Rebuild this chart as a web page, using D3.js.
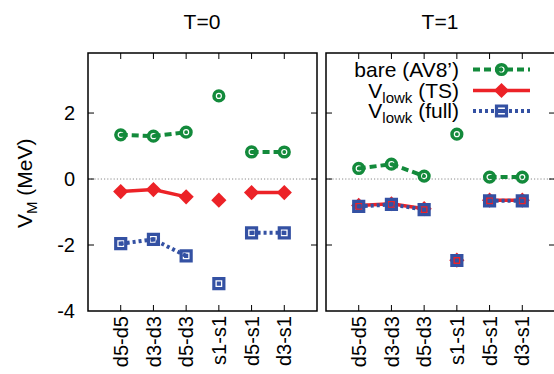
<!DOCTYPE html>
<html>
<head>
<meta charset="utf-8">
<script src="https://cdn.jsdelivr.net/npm/d3@7/dist/d3.min.js"></script>
<style>
  html, body { margin: 0; padding: 0; background: #fff; }
  svg { display: block; font-family: "Liberation Sans", Arial, Helvetica, sans-serif; }
</style>
</head>
<body>
<svg id="chart" width="554" height="374"></svg>
<script>
// Matrix elements V_M (MeV) per orbital pair, for the two isospin channels
const categories = ["d5-d5", "d3-d3", "d5-d3", "s1-s1", "d5-s1", "d3-s1"];
// points sharing a group id are joined by a line
const lineGroups = [0, 0, 0, 1, 2, 2];
const yTicks = [-4, -2, 0, 2];
const panelTitles = ["T=0", "T=1"];

const bareT0 = [1.34, 1.30, 1.42, 2.52, 0.82, 0.82];
const tsT0   = [-0.38, -0.32, -0.54, -0.64, -0.41, -0.41];
const fullT0 = [-1.96, -1.83, -2.33, -3.17, -1.63, -1.63];

const bareT1 = [0.32, 0.45, 0.09, 1.36, 0.06, 0.06];
const tsT1   = [-0.80, -0.75, -0.90, -2.46, -0.64, -0.64];
const fullT1 = [-0.83, -0.77, -0.93, -2.47, -0.66, -0.66];

const legendLabels = [
  { main: "bare (AV8\u2019)", sub: null, rest: null },
  { main: "V", sub: "lowk", rest: " (TS)" },
  { main: "V", sub: "lowk", rest: " (full)" }
];

const colors = { bare: "#138a3b", ts: "#ec2227", full: "#3451a3" };

const svg = d3.select("#chart");

const y = d3.scaleLinear().domain([-4, 3.82]).range([311, 53]);

const panels = [
  { x0: 88, x1: 317, title: panelTitles[0], data: [bareT0, tsT0, fullT0] },
  { x0: 326, x1: 555, title: panelTitles[1], data: [bareT1, tsT1, fullT1] }
];

// Marker shapes: filled outline with a small open ring punched through (evenodd)
function circlePath(cx, cy) {
  const p = d3.path();
  const r = 6.6, a = 3.1, b = 1.9;
  p.moveTo(cx + r, cy); p.arc(cx, cy, r, 0, 2 * Math.PI);
  p.moveTo(cx + a, cy); p.arc(cx, cy, a, 0, 2 * Math.PI);
  p.moveTo(cx + b, cy); p.arc(cx, cy, b, 0, 2 * Math.PI);
  return p.toString();
}
function squarePath(cx, cy) {
  const h = 6.6, a = 3.4, b = 2.1;
  const sq = s => `M${cx - s},${cy - s}H${cx + s}V${cy + s}H${cx - s}Z`;
  return sq(h) + sq(a) + sq(b);
}
function diamondPath(cx, cy) {
  const h = 7.6;
  return `M${cx},${cy - h}L${cx + h},${cy}L${cx},${cy + h}L${cx - h},${cy}Z`;
}

const seriesStyle = [
  { color: colors.bare, width: 4, dash: "7,4", marker: circlePath },
  { color: colors.ts, width: 3.5, dash: null, marker: diamondPath },
  { color: colors.full, width: 4, dash: "3,3", marker: squarePath }
];

panels.forEach(panel => {
  const x = d3.scaleLinear().domain([0, categories.length + 1]).range([panel.x0, panel.x1]);
  const g = svg.append("g");

  // zero reference line
  g.append("line")
    .attr("x1", panel.x0).attr("x2", panel.x1)
    .attr("y1", y(0)).attr("y2", y(0))
    .attr("stroke", "#8a8a8a").attr("stroke-width", 1)
    .attr("stroke-dasharray", "1.2,2");

  // series lines then markers
  panel.data.forEach((vals, si) => {
    const st = seriesStyle[si];
    const groups = d3.groups(vals.map((v, i) => ({ v, i })), d => lineGroups[d.i]);
    const line = d3.line().x(d => x(d.i + 1)).y(d => y(d.v));
    groups.forEach(([, pts]) => {
      if (pts.length < 2) return;
      g.append("path")
        .attr("d", line(pts))
        .attr("fill", "none")
        .attr("stroke", st.color)
        .attr("stroke-width", st.width)
        .attr("stroke-dasharray", st.dash);
    });
    vals.forEach((v, i) => {
      g.append("path")
        .attr("d", st.marker(x(i + 1), y(v)))
        .attr("fill", st.color)
        .attr("fill-rule", "evenodd");
    });
  });

  // frame
  g.append("rect")
    .attr("x", panel.x0).attr("y", y.range()[1])
    .attr("width", panel.x1 - panel.x0).attr("height", y.range()[0] - y.range()[1])
    .attr("fill", "none").attr("stroke", "#000").attr("stroke-width", 1.5);

  // inward ticks on all four sides
  const tl = 6;
  yTicks.forEach(t => {
    if (t === -4) return;
    g.append("line").attr("x1", panel.x0).attr("x2", panel.x0 + tl)
      .attr("y1", y(t)).attr("y2", y(t)).attr("stroke", "#000").attr("stroke-width", 1);
    g.append("line").attr("x1", panel.x1).attr("x2", panel.x1 - tl)
      .attr("y1", y(t)).attr("y2", y(t)).attr("stroke", "#000").attr("stroke-width", 1);
  });
  categories.forEach((c, i) => {
    const cx = x(i + 1);
    g.append("line").attr("x1", cx).attr("x2", cx)
      .attr("y1", y.range()[0]).attr("y2", y.range()[0] - tl).attr("stroke", "#000").attr("stroke-width", 1);
    g.append("line").attr("x1", cx).attr("x2", cx)
      .attr("y1", y.range()[1]).attr("y2", y.range()[1] + tl).attr("stroke", "#000").attr("stroke-width", 1);
    // category labels, rotated
    g.append("text")
      .attr("transform", `translate(${cx},${y.range()[0] + 5}) rotate(-90)`)
      .attr("text-anchor", "end")
      .attr("dy", "0.36em")
      .attr("font-size", 20)
      .text(c);
  });

  // title
  g.append("text")
    .attr("x", (panel.x0 + panel.x1) / 2 - 0.5)
    .attr("y", 28.5)
    .attr("text-anchor", "middle")
    .attr("font-size", 21)
    .text(panel.title);
});

// y tick labels on the left panel
yTicks.forEach(t => {
  svg.append("text")
    .attr("x", 75).attr("y", y(t))
    .attr("dy", "0.36em")
    .attr("text-anchor", "end")
    .attr("font-size", 20)
    .text(t);
});

// y-axis title
const yl = svg.append("text")
  .attr("transform", "translate(32,228) rotate(-90)")
  .attr("text-anchor", "start")
  .attr("font-size", 21);
yl.append("tspan").text("V");
yl.append("tspan").attr("font-size", 15).attr("dy", 5).text("M");
yl.append("tspan").attr("dy", -5).text(" (MeV)");

// legend inside the T=1 panel
const legendRows = [69.5, 90.5, 111];
legendLabels.forEach((lab, i) => {
  const ly = legendRows[i];
  const t = svg.append("text")
    .attr("x", 459).attr("y", ly + 7)
    .attr("text-anchor", "end")
    .attr("font-size", 21);
  t.append("tspan").text(lab.main);
  if (lab.sub) {
    t.append("tspan").attr("font-size", 15).attr("dy", 5).text(lab.sub);
    t.append("tspan").attr("dy", -5).text(lab.rest);
  }
  const st = seriesStyle[i];
  svg.append("line")
    .attr("x1", 473).attr("x2", 530).attr("y1", ly).attr("y2", ly)
    .attr("stroke", st.color).attr("stroke-width", st.width)
    .attr("stroke-dasharray", st.dash);
  svg.append("path")
    .attr("d", st.marker(501.5, ly))
    .attr("fill", st.color)
    .attr("fill-rule", "evenodd");
});
</script>
</body>
</html>
